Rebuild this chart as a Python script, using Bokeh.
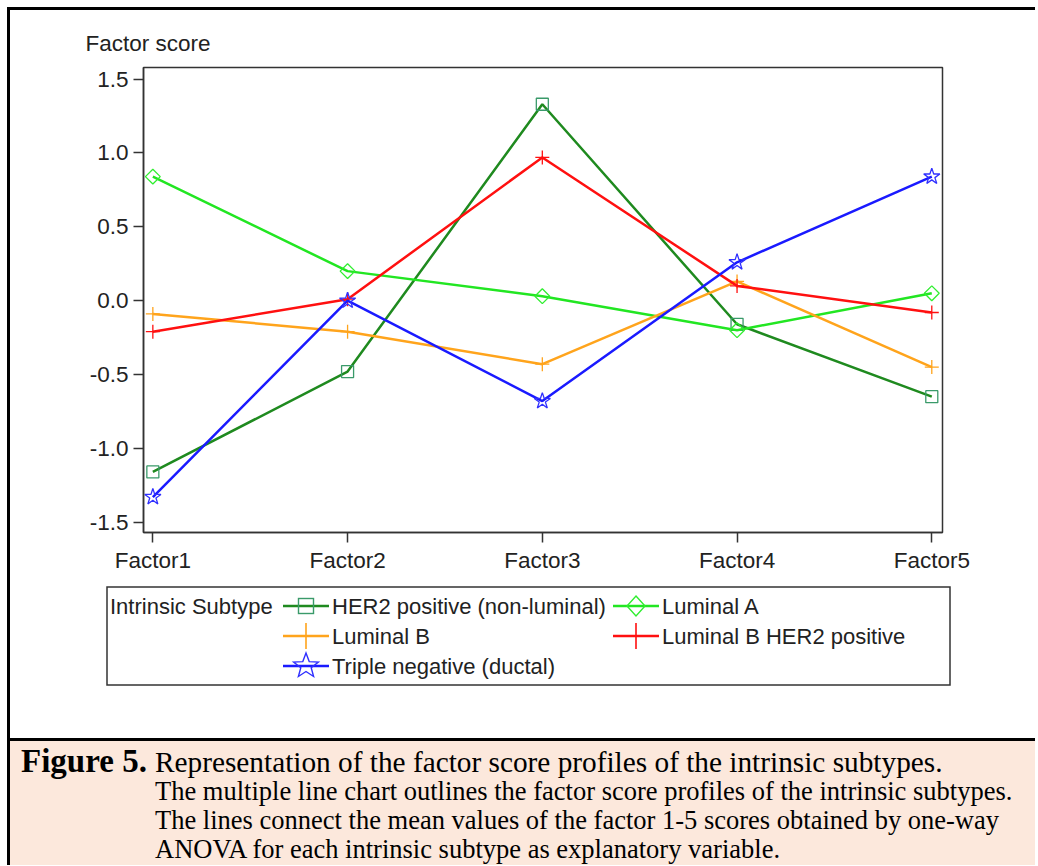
from bokeh.plotting import figure
from bokeh.models import Range1d, FixedTicker, NumeralTickFormatter, Div
from bokeh.layouts import column
from bokeh.embed import file_html
from bokeh.resources import INLINE
import math

# ---------------- data ----------------
categories = ["Factor1", "Factor2", "Factor3", "Factor4", "Factor5"]
y_ticks = [-1.5, -1.0, -0.5, 0.0, 0.5, 1.0, 1.5]

her2_nonluminal = [-1.16, -0.48, 1.33, -0.16, -0.65]
luminal_a = [0.84, 0.20, 0.03, -0.20, 0.05]
luminal_b = [-0.09, -0.21, -0.43, 0.13, -0.45]
luminal_b_her2 = [-0.21, 0.01, 0.97, 0.10, -0.08]
triple_negative = [-1.33, 0.00, -0.68, 0.26, 0.84]

series_names = ["HER2 positive (non-luminal)", "Luminal A", "Luminal B",
                "Luminal B HER2 positive", "Triple negative (ductal)"]
series_values = [her2_nonluminal, luminal_a, luminal_b, luminal_b_her2, triple_negative]
legend_title = "Intrinsic Subtype"
y_title = "Factor score"
caption_label = "Figure 5."
caption_title = "Representation of the factor score profiles of the intrinsic subtypes."
caption_lines = ["The multiple line chart outlines the factor score profiles of the intrinsic subtypes.",
                 "The lines connect the mean values of the factor 1-5 scores obtained by one-way",
                 "ANOVA for each intrinsic subtype as explanatory variable."]

# ---------------- styles ----------------
line_colors = ["#1f8a1f", "#22e622", "#ffa41c", "#ff1010", "#1a1aff"]
marker_colors = ["#3a9a6a", "#30ee30", "#ffa41c", "#ff1010", "#3030ff"]
markers = ["square", "square", "cross", "cross", "star"]
angles = [0, math.pi / 4, 0, 0, 0]
plot_sizes = [12, 10.5, 14, 14, 17]
legend_kinds = ["square", "diamond", "plus", "plus", "star"]

SANS = "Liberation Sans"
TXT = "#222222"
AX = "#333333"

xs = list(range(1, len(categories) + 1))

p = figure(width=1025, height=570,
           x_range=Range1d(0.952, 5.055), y_range=Range1d(-1.570, 1.579),
           output_backend="svg", toolbar_location=None,
           min_border_left=133, min_border_right=93,
           min_border_top=57, min_border_bottom=48)
p.grid.visible = False
p.outline_line_color = AX
p.outline_line_width = 1.5

p.title.text = y_title
p.title.text_font = SANS
p.title.text_font_size = "22.5px"
p.title.text_font_style = "normal"
p.title.text_color = TXT
p.title.align = "left"
p.title.offset = -58
p.title.standoff = 24

p.xaxis.ticker = FixedTicker(ticks=xs)
p.xaxis.major_label_overrides = {x: c for x, c in zip(xs, categories)}
p.yaxis.ticker = FixedTicker(ticks=y_ticks)
p.yaxis.formatter = NumeralTickFormatter(format="0.0")
for ax in (p.xaxis, p.yaxis):
    ax.axis_line_color = AX
    ax.axis_line_width = 1.5
    ax.major_tick_line_color = AX
    ax.major_tick_line_width = 1.5
    ax.major_tick_out = 10
    ax.major_tick_in = 0
    ax.minor_tick_out = 0
    ax.minor_tick_in = 0
    ax.major_label_text_font = SANS
    ax.major_label_text_font_size = "22.5px"
    ax.major_label_text_color = TXT
    ax.major_label_standoff = 5

for vals, lc, mc, mk, ang, sz in zip(series_values, line_colors, marker_colors,
                                     markers, angles, plot_sizes):
    p.line(xs, vals, line_color=lc, line_width=2.5)
    p.scatter(xs, vals, marker=mk, size=sz, angle=ang, fill_color=None,
              line_color=mc, line_width=1.3)


# ---------------- legend panel (HTML/SVG) ----------------
def marker_svg(kind, cx, cy, color):
    if kind == "square":
        return ('<rect x="%.1f" y="%.1f" width="15" height="15" fill="none" stroke="%s" '
                'stroke-width="1.4"/>' % (cx - 7.5, cy - 7.5, color))
    if kind == "diamond":
        pts = "%.1f,%.1f %.1f,%.1f %.1f,%.1f %.1f,%.1f" % (cx, cy - 10, cx + 9, cy, cx, cy + 10, cx - 9, cy)
        return '<polygon points="%s" fill="none" stroke="%s" stroke-width="1.4"/>' % (pts, color)
    if kind == "plus":
        return ('<path d="M%.1f %.1f L%.1f %.1f M%.1f %.1f L%.1f %.1f" stroke="%s" stroke-width="1.6"/>'
                % (cx - 12, cy, cx + 12, cy, cx, cy - 13, cx, cy + 13, color))
    pts = []
    for k in range(10):
        r = 13 if k % 2 == 0 else 5.5
        a = -math.pi / 2 + k * math.pi / 5
        pts.append("%.1f,%.1f" % (cx + r * math.cos(a), cy + r * math.sin(a)))
    return '<polygon points="%s" fill="none" stroke="%s" stroke-width="1.4"/>' % (" ".join(pts), color)


slots = [(273, 26), (603, 26), (273, 56), (603, 56), (273, 86)]
svg = ['<svg width="1025" height="158" xmlns="http://www.w3.org/2000/svg" style="display:block">',
       '<rect x="97" y="7" width="843" height="98" fill="none" stroke="%s" stroke-width="1.5"/>' % AX,
       '<text x="100" y="26" dominant-baseline="central" font-family="%s" font-size="22" fill="%s">%s</text>'
       % (SANS, TXT, legend_title)]
for (sx, sy), name, lc, mc, kind in zip(slots, series_names, line_colors, marker_colors, legend_kinds):
    svg.append('<line x1="%d" y1="%d" x2="%d" y2="%d" stroke="%s" stroke-width="2.5"/>'
               % (sx, sy, sx + 46, sy, lc))
    svg.append(marker_svg(kind, sx + 23, sy, mc))
    svg.append('<text x="%d" y="%d" dominant-baseline="central" font-family="%s" font-size="22" fill="%s">%s</text>'
               % (sx + 49, sy, SANS, TXT, name))
svg.append('</svg>')
legend_div = Div(text="".join(svg), width=1025, height=158, margin=(0, 0, 0, 0))

# ---------------- caption ----------------
html = ('<div style="position:relative;width:1025px;height:124px;overflow:hidden;'
        'background:#fce8dc;border-top:3px solid #000;font-family:\'Liberation Serif\',serif;color:#000;">'
        '<div style="position:absolute;left:11px;top:3px;line-height:34px;white-space:nowrap;">'
        '<b style="font-size:33px;display:inline-block;width:134px;">%s</b>'
        '<span style="font-size:29.3px;">%s</span></div>' % (caption_label, caption_title))
for i, t in enumerate(caption_lines):
    html += ('<div style="position:absolute;left:145px;top:%dpx;line-height:24px;font-size:26.5px;'
             'white-space:nowrap;">%s</div>' % (38 + 29 * i, t))
html += '</div>'
cap = Div(text=html, width=1025, height=127, margin=(0, 0, 0, 0))

layout = column(p, legend_div, cap, margin=(7, 0, 0, 7),
                styles={"box-sizing": "content-box",
                        "border-top": "3px solid #000", "border-left": "3px solid #000"})

open("out.html", "w").write(file_html(layout, INLINE))
